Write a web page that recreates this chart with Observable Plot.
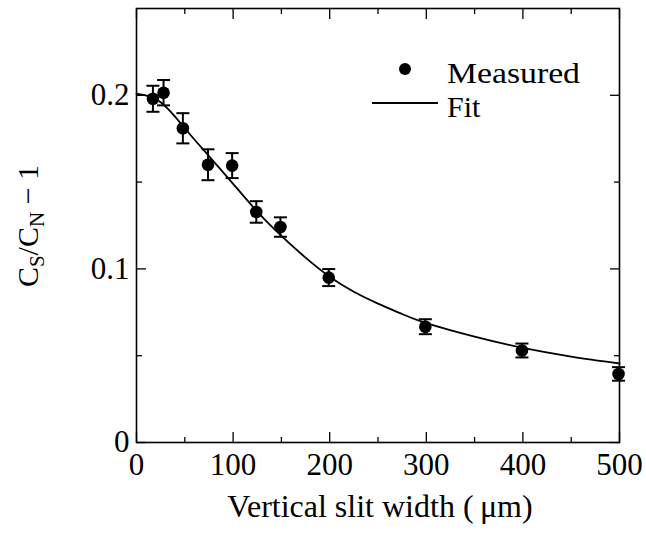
<!DOCTYPE html>
<html><head><meta charset="utf-8">
<script src="https://cdn.jsdelivr.net/npm/d3@7"></script>
<script src="https://cdn.jsdelivr.net/npm/@observablehq/plot@0.6"></script>
<style>body{margin:0;background:#fff;} svg{display:block}</style>
</head><body><div id="chart"></div>
<script>
// Measured points (x in µm, y = Cs/Cn - 1, symmetric error)
const measX = [17, 28, 48, 74, 99, 124, 149, 199, 299, 399, 499];
const measY = [0.198, 0.2015, 0.181, 0.160, 0.1595, 0.1328, 0.1241, 0.0950, 0.0667, 0.0530, 0.0395];
const measErr = [0.0075, 0.0073, 0.0087, 0.0089, 0.0072, 0.0062, 0.0056, 0.0049, 0.0043, 0.0040, 0.0039];
// Fit curve
const fitX = [0, 25, 50, 75, 100, 125, 150, 175, 200, 225, 250, 275, 300, 350, 400, 450, 500];
const fitY = [0.201, 0.196, 0.181, 0.165, 0.149, 0.133, 0.119, 0.1065, 0.0955, 0.0868, 0.0800, 0.0740, 0.0688, 0.0610, 0.0545, 0.0495, 0.0455];
// Ticks
const xMajor = [0, 100, 200, 300, 400, 500];
const xMajorLabels = ["0", "100", "200", "300", "400", "500"];
const xMinor = [50, 150, 250, 350, 450];
const yMajor = [0, 0.1, 0.2];
const yMajorLabels = ["0", "0.1", "0.2"];
const yMinor = [0.05, 0.15];
const xLabel = "Vertical slit width (\u2009\u03bcm)";
const legendLabels = ["Measured", "Fit"];

const measured = measX.map((x, i) => ({x, y: measY[i], lo: measY[i] - measErr[i], hi: measY[i] + measErr[i]}));
const fit = fitX.map((x, i) => ({x, y: fitY[i]}));

const capSymbol = {draw(ctx, size) { const h = Math.sqrt(size / Math.PI); ctx.moveTo(-h, 0); ctx.lineTo(h, 0); }};
const FONT = "'Liberation Serif', 'Times New Roman', serif";
const tw = 1.3;

const chart = Plot.plot({
  width: 646, height: 533,
  marginLeft: 136, marginRight: 27, marginTop: 8, marginBottom: 91,
  style: {fontFamily: FONT, fontSize: "31px", color: "black", background: "white", overflow: "visible"},
  x: {domain: [0, 500]},
  y: {domain: [0, 0.25]},
  marks: [
    Plot.frame({stroke: "black", strokeWidth: 1.6}),
    // bottom axis
    Plot.axisX(xMajor, {anchor: "bottom", tickSize: -10, tickPadding: 20, strokeWidth: tw, label: null,
      tickFormat: d => xMajorLabels[xMajor.indexOf(d)]}),
    Plot.axisX(xMinor, {anchor: "bottom", tickSize: -5, strokeWidth: tw, fill: "none", label: null}),
    // top axis
    Plot.axisX(xMajor, {anchor: "top", tickSize: -10, strokeWidth: tw, fill: "none", label: null}),
    Plot.axisX(xMinor, {anchor: "top", tickSize: -5, strokeWidth: tw, fill: "none", label: null}),
    // left axis
    Plot.axisY(yMajor, {anchor: "left", tickSize: -10, tickPadding: 17, strokeWidth: tw, label: null,
      tickFormat: d => yMajorLabels[yMajor.indexOf(d)]}),
    Plot.axisY(yMinor, {anchor: "left", tickSize: -6, strokeWidth: tw, fill: "none", label: null}),
    // right axis
    Plot.axisY(yMajor, {anchor: "right", tickSize: -10, strokeWidth: tw, fill: "none", label: null}),
    Plot.axisY(yMinor, {anchor: "right", tickSize: -6, strokeWidth: tw, fill: "none", label: null}),
    // x label
    Plot.text([xLabel], {frameAnchor: "bottom", dy: 64, dx: 2, lineAnchor: "middle", fontSize: 32, fill: "black"}),
    // fit curve
    Plot.line(fit, {x: "x", y: "y", curve: "natural", stroke: "black", strokeWidth: 1.8}),
    // error bars
    Plot.ruleX(measured, {x: "x", y1: "lo", y2: "hi", stroke: "black", strokeWidth: 2}),
    Plot.dot(measured, {x: "x", y: "lo", symbol: capSymbol, r: 6.5, stroke: "black", fill: "none", strokeWidth: 2}),
    Plot.dot(measured, {x: "x", y: "hi", symbol: capSymbol, r: 6.5, stroke: "black", fill: "none", strokeWidth: 2}),
    // points
    Plot.dot(measured, {x: "x", y: "y", r: 6.3, fill: "black", stroke: "none"})
  ]
});
document.getElementById("chart").appendChild(chart);

const svg = d3.select(chart);
// y label with subscripts
const yl = svg.append("text")
  .attr("transform", "translate(38,226) rotate(-90)")
  .attr("text-anchor", "middle")
  .attr("font-family", FONT).attr("font-size", 30).attr("fill", "black");
yl.append("tspan").text("C");
yl.append("tspan").attr("dy", 6).attr("font-size", 21).text("S");
yl.append("tspan").attr("dy", -6).text("/C");
yl.append("tspan").attr("dy", 6).attr("font-size", 21).text("N");
yl.append("tspan").attr("dy", -6).text(" \u2212 1");

// legend
const lg = svg.append("g").attr("font-family", FONT).attr("font-size", 30).attr("fill", "black").attr("text-anchor", "start");
lg.append("circle").attr("cx", 405).attr("cy", 69).attr("r", 6).attr("fill", "black");
lg.append("text").attr("x", 447).attr("y", 83).attr("text-anchor", "start")
  .attr("textLength", 133).attr("lengthAdjust", "spacingAndGlyphs").text(legendLabels[0]);
lg.append("line").attr("x1", 372).attr("x2", 438).attr("y1", 103).attr("y2", 103).attr("stroke", "black").attr("stroke-width", 1.8);
lg.append("text").attr("x", 447).attr("y", 117).attr("text-anchor", "start").text(legendLabels[1]);
</script>
</body></html>
